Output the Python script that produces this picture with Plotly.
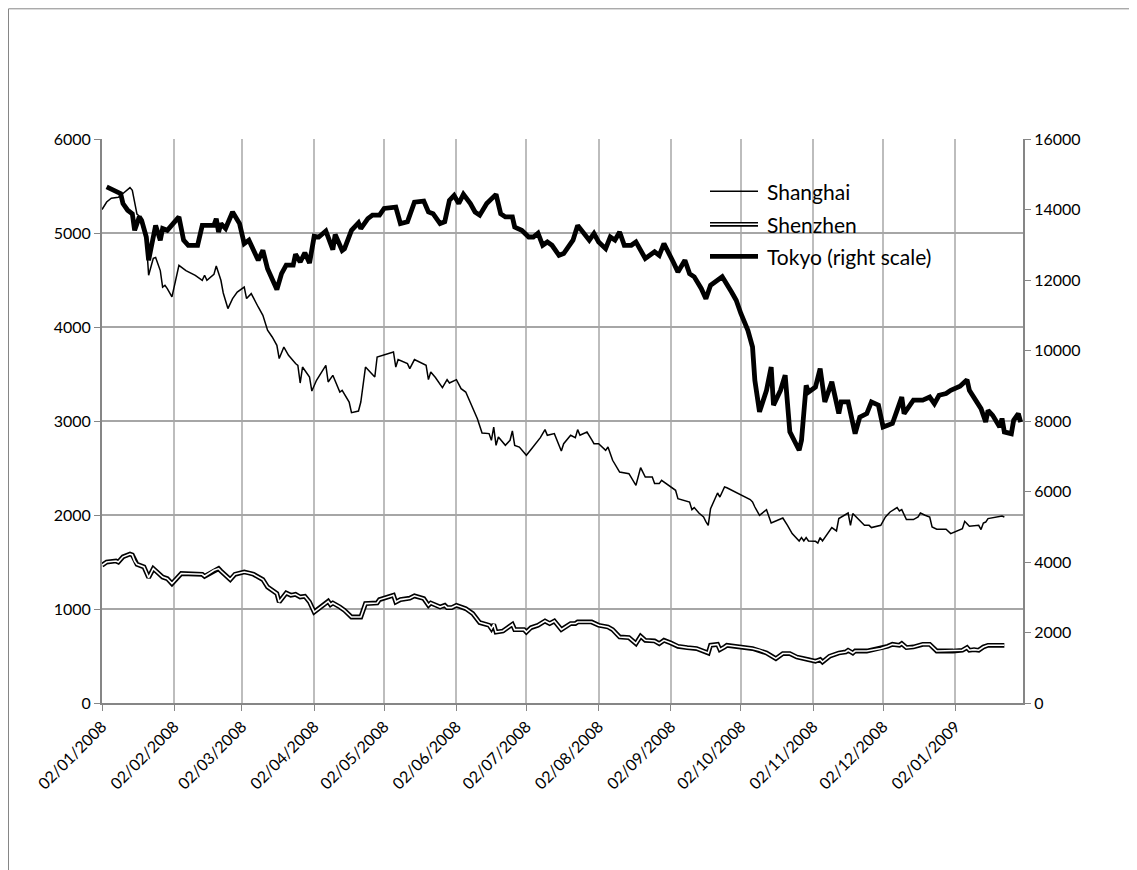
import plotly.graph_objects as go

# ---------------- data ----------------
tokyo_dates = [
    "2008-01-04", "2008-01-08", "2008-01-10", "2008-01-11", "2008-01-13", "2008-01-15", "2008-01-16",
    "2008-01-18", "2008-01-19", "2008-01-21", "2008-01-22", "2008-01-23", "2008-01-25", "2008-01-27",
    "2008-01-28", "2008-01-30", "2008-02-01", "2008-02-04", "2008-02-06", "2008-02-08", "2008-02-12",
    "2008-02-14", "2008-02-19", "2008-02-20", "2008-02-21", "2008-02-22", "2008-02-24", "2008-02-27",
    "2008-03-01", "2008-03-03", "2008-03-05", "2008-03-09", "2008-03-11", "2008-03-13", "2008-03-17",
    "2008-03-19", "2008-03-21", "2008-03-24", "2008-03-25", "2008-03-27", "2008-03-29", "2008-03-31",
    "2008-04-02", "2008-04-04", "2008-04-07", "2008-04-08", "2008-04-10", "2008-04-11", "2008-04-14",
    "2008-04-15", "2008-04-18", "2008-04-21", "2008-04-22", "2008-04-25", "2008-04-27", "2008-04-30",
    "2008-05-02", "2008-05-07", "2008-05-09", "2008-05-12", "2008-05-14", "2008-05-15", "2008-05-19",
    "2008-05-21", "2008-05-23", "2008-05-26", "2008-05-28", "2008-05-30", "2008-06-01", "2008-06-03",
    "2008-06-05", "2008-06-08", "2008-06-10", "2008-06-12", "2008-06-15", "2008-06-19", "2008-06-21",
    "2008-06-23", "2008-06-26", "2008-06-27", "2008-06-30", "2008-07-03", "2008-07-05", "2008-07-07",
    "2008-07-09", "2008-07-11", "2008-07-13", "2008-07-16", "2008-07-18", "2008-07-22", "2008-07-24",
    "2008-07-26", "2008-07-29", "2008-07-31", "2008-08-02", "2008-08-05", "2008-08-07", "2008-08-09",
    "2008-08-11", "2008-08-13", "2008-08-16", "2008-08-18", "2008-08-22", "2008-08-26", "2008-08-28",
    "2008-08-30", "2008-09-01", "2008-09-03", "2008-09-05", "2008-09-08", "2008-09-10", "2008-09-12",
    "2008-09-15", "2008-09-17", "2008-09-19", "2008-09-24", "2008-09-28", "2008-09-30", "2008-10-02",
    "2008-10-05", "2008-10-07", "2008-10-08", "2008-10-10", "2008-10-13", "2008-10-15", "2008-10-16",
    "2008-10-19", "2008-10-21", "2008-10-23", "2008-10-27", "2008-10-28", "2008-10-30", "2008-10-31",
    "2008-11-03", "2008-11-05", "2008-11-07", "2008-11-10", "2008-11-13", "2008-11-14", "2008-11-17",
    "2008-11-20", "2008-11-22", "2008-11-25", "2008-11-27", "2008-11-30", "2008-12-02", "2008-12-04",
    "2008-12-06", "2008-12-08", "2008-12-10", "2008-12-11", "2008-12-15", "2008-12-19", "2008-12-22",
    "2008-12-24", "2008-12-26", "2008-12-29", "2008-12-31", "2009-01-04", "2009-01-07", "2009-01-08",
    "2009-01-11", "2009-01-13", "2009-01-15", "2009-01-16", "2009-01-18", "2009-01-21", "2009-01-22",
    "2009-01-23", "2009-01-26", "2009-01-27", "2009-01-29", "2009-01-30",
]
tokyo_values = [
    14640, 14500, 14450, 14170, 13980, 13880, 13410,
    13790, 13690, 13220, 12560, 12890, 13550, 13130,
    13460, 13410, 13550, 13790, 13130, 12985, 12985,
    13550, 13550, 13740, 13360, 13600, 13460, 13930,
    13600, 13030, 13130, 12560, 12840, 12320, 11730,
    12180, 12420, 12420, 12730, 12510, 12770, 12480,
    13240, 13220, 13390, 13240, 12860, 13290, 12840,
    12890, 13410, 13620, 13460, 13740, 13840, 13840,
    14030, 14070, 13600, 13650, 14070, 14210, 14240,
    13930, 13880, 13600, 13650, 14260, 14400, 14170,
    14430, 14170, 13930, 13840, 14170, 14430, 13880,
    13790, 13790, 13500, 13410, 13220, 13220, 13330,
    12985, 13080, 12985, 12700, 12750, 13130, 13550,
    13360, 13130, 13320, 13080, 12890, 13220, 13130,
    13360, 12985, 12985, 13080, 12610, 12800, 12700,
    13030, 12800, 12510, 12230, 12560, 12180, 12090,
    11760, 11470, 11850, 12090, 11660, 11425, 11050,
    10570, 10100, 9150, 8260, 8870, 9530, 8450,
    8870, 9300, 7690, 7170, 7450, 9010, 8820,
    8965, 9490, 8540, 9110, 8210, 8540, 8540,
    7640, 8110, 8210, 8540, 8450, 7830, 7880,
    7930, 8300, 8680, 8210, 8590, 8590, 8680,
    8490, 8730, 8780, 8870, 8985, 9170, 8870,
    8540, 8350, 7970, 8300, 8160, 7830, 8070,
    7690, 7640, 8020, 8210, 7970,
]

shanghai_dates = [
    "2008-01-02", "2008-01-04", "2008-01-06", "2008-01-09", "2008-01-11", "2008-01-14", "2008-01-15",
    "2008-01-17", "2008-01-18", "2008-01-21", "2008-01-22", "2008-01-24", "2008-01-25", "2008-01-27",
    "2008-01-28", "2008-01-29", "2008-01-30", "2008-02-01", "2008-02-04", "2008-02-07", "2008-02-11",
    "2008-02-14", "2008-02-15", "2008-02-16", "2008-02-19", "2008-02-20", "2008-02-22", "2008-02-23",
    "2008-02-25", "2008-02-27", "2008-02-29", "2008-03-03", "2008-03-04", "2008-03-06", "2008-03-09",
    "2008-03-11", "2008-03-13", "2008-03-15", "2008-03-17", "2008-03-18", "2008-03-20", "2008-03-22",
    "2008-03-25", "2008-03-26", "2008-03-27", "2008-03-28", "2008-03-31", "2008-04-01", "2008-04-03",
    "2008-04-07", "2008-04-08", "2008-04-10", "2008-04-13", "2008-04-14", "2008-04-17", "2008-04-18",
    "2008-04-21", "2008-04-22", "2008-04-24", "2008-04-28", "2008-04-29", "2008-05-06", "2008-05-07",
    "2008-05-08", "2008-05-12", "2008-05-13", "2008-05-15", "2008-05-20", "2008-05-21", "2008-05-22",
    "2008-05-24", "2008-05-27", "2008-05-29", "2008-05-30", "2008-06-02", "2008-06-04", "2008-06-06",
    "2008-06-11", "2008-06-13", "2008-06-16", "2008-06-17", "2008-06-18", "2008-06-19", "2008-06-20",
    "2008-06-23", "2008-06-25", "2008-06-26", "2008-06-27", "2008-06-29", "2008-07-02", "2008-07-04",
    "2008-07-08", "2008-07-10", "2008-07-11", "2008-07-14", "2008-07-16", "2008-07-17", "2008-07-18",
    "2008-07-21", "2008-07-23", "2008-07-24", "2008-07-25", "2008-07-28", "2008-07-30", "2008-07-31",
    "2008-08-02", "2008-08-05", "2008-08-06", "2008-08-08", "2008-08-11", "2008-08-14", "2008-08-15",
    "2008-08-18", "2008-08-20", "2008-08-22", "2008-08-25", "2008-08-26", "2008-08-28", "2008-08-29",
    "2008-09-03", "2008-09-04", "2008-09-05", "2008-09-08", "2008-09-10", "2008-09-11", "2008-09-12",
    "2008-09-14", "2008-09-16", "2008-09-17", "2008-09-18", "2008-09-19", "2008-09-22", "2008-09-23",
    "2008-09-25", "2008-09-26", "2008-10-06", "2008-10-07", "2008-10-08", "2008-10-10", "2008-10-13",
    "2008-10-15", "2008-10-20", "2008-10-22", "2008-10-24", "2008-10-27", "2008-10-28", "2008-10-29",
    "2008-10-30", "2008-10-31", "2008-11-03", "2008-11-04", "2008-11-05", "2008-11-06", "2008-11-07",
    "2008-11-10", "2008-11-12", "2008-11-13", "2008-11-17", "2008-11-18", "2008-11-19", "2008-11-21",
    "2008-11-24", "2008-11-26", "2008-11-27", "2008-12-01", "2008-12-03", "2008-12-05", "2008-12-08",
    "2008-12-09", "2008-12-10", "2008-12-12", "2008-12-15", "2008-12-17", "2008-12-18", "2008-12-20",
    "2008-12-22", "2008-12-23", "2008-12-25", "2008-12-29", "2008-12-31", "2009-01-05", "2009-01-06",
    "2009-01-07", "2009-01-08", "2009-01-12", "2009-01-13", "2009-01-14", "2009-01-15", "2009-01-16",
    "2009-01-20", "2009-01-22", "2009-01-23",
]
shanghai_values = [
    5250, 5330, 5370, 5380, 5420, 5483, 5454,
    5200, 5180, 4920, 4550, 4730, 4740, 4600,
    4425, 4443, 4408, 4320, 4656, 4600, 4550,
    4497, 4550, 4497, 4560, 4649, 4497, 4362,
    4196, 4302, 4372, 4425, 4302, 4355, 4213,
    4124, 3965, 3894, 3805, 3664, 3787, 3699,
    3611, 3592, 3404, 3574, 3468, 3319, 3433,
    3592, 3415, 3486, 3308, 3326, 3202, 3089,
    3106, 3202, 3574, 3468, 3681, 3734, 3574,
    3653, 3611, 3557, 3653, 3592, 3440, 3521,
    3462, 3355, 3440, 3404, 3440, 3344, 3308,
    3025, 2872, 2866, 2795, 2936, 2741, 2830,
    2741, 2795, 2894, 2741, 2723, 2635, 2696,
    2823, 2908, 2848, 2866, 2741, 2681, 2759,
    2848, 2823, 2908, 2848, 2883, 2802, 2759,
    2759, 2688, 2723, 2582, 2457, 2440, 2440,
    2316, 2504, 2404, 2404, 2334, 2334, 2369,
    2281, 2263, 2174, 2156, 2138, 2057, 2079,
    2021, 1979, 1930, 1890, 2068, 2234, 2191,
    2298, 2290, 2164, 2140, 2085, 1997, 2057,
    1915, 1968, 1890, 1802, 1723, 1759, 1723,
    1759, 1723, 1720, 1702, 1759, 1723, 1759,
    1866, 1830, 1962, 2021, 1890, 2015, 1962,
    1890, 1890, 1866, 1890, 1979, 2032, 2079,
    2043, 2057, 1951, 1951, 1979, 2021, 1997,
    1979, 1872, 1848, 1848, 1802, 1855, 1933,
    1908, 1880, 1890, 1845, 1915, 1925, 1962,
    1979, 1989, 1979,
]

shenzhen_dates = [
    "2008-01-02", "2008-01-04", "2008-01-08", "2008-01-09", "2008-01-11", "2008-01-14", "2008-01-15",
    "2008-01-16", "2008-01-17", "2008-01-20", "2008-01-22", "2008-01-24", "2008-01-28", "2008-01-30",
    "2008-02-01", "2008-02-05", "2008-02-14", "2008-02-15", "2008-02-19", "2008-02-21", "2008-02-22",
    "2008-02-26", "2008-02-28", "2008-03-03", "2008-03-05", "2008-03-07", "2008-03-11", "2008-03-13",
    "2008-03-17", "2008-03-18", "2008-03-21", "2008-03-23", "2008-03-25", "2008-03-27", "2008-03-29",
    "2008-03-31", "2008-04-02", "2008-04-05", "2008-04-08", "2008-04-09", "2008-04-10", "2008-04-13",
    "2008-04-15", "2008-04-18", "2008-04-22", "2008-04-24", "2008-04-29", "2008-04-30", "2008-05-05",
    "2008-05-06", "2008-05-07", "2008-05-09", "2008-05-13", "2008-05-15", "2008-05-19", "2008-05-21",
    "2008-05-22", "2008-05-26", "2008-05-28", "2008-05-29", "2008-05-31", "2008-06-02", "2008-06-06",
    "2008-06-09", "2008-06-12", "2008-06-16", "2008-06-17", "2008-06-18", "2008-06-19", "2008-06-22",
    "2008-06-24", "2008-06-26", "2008-06-27", "2008-07-01", "2008-07-02", "2008-07-04", "2008-07-07",
    "2008-07-10", "2008-07-12", "2008-07-14", "2008-07-17", "2008-07-21", "2008-07-23", "2008-07-24",
    "2008-07-30", "2008-08-02", "2008-08-06", "2008-08-08", "2008-08-11", "2008-08-15", "2008-08-18",
    "2008-08-20", "2008-08-22", "2008-08-26", "2008-08-28", "2008-08-30", "2008-09-02", "2008-09-05",
    "2008-09-09", "2008-09-13", "2008-09-18", "2008-09-19", "2008-09-22", "2008-09-23", "2008-09-25",
    "2008-09-26", "2008-10-07", "2008-10-10", "2008-10-13", "2008-10-17", "2008-10-20", "2008-10-23",
    "2008-10-26", "2008-10-31", "2008-11-03", "2008-11-05", "2008-11-06", "2008-11-09", "2008-11-13",
    "2008-11-16", "2008-11-17", "2008-11-19", "2008-11-20", "2008-11-25", "2008-12-01", "2008-12-04",
    "2008-12-06", "2008-12-09", "2008-12-10", "2008-12-12", "2008-12-15", "2008-12-19", "2008-12-22",
    "2008-12-25", "2009-01-01", "2009-01-05", "2009-01-07", "2009-01-08", "2009-01-10", "2009-01-12",
    "2009-01-14", "2009-01-16", "2009-01-23",
]
shenzhen_values = [
    1465, 1500, 1511, 1500, 1555, 1585, 1575,
    1510, 1475, 1447, 1334, 1430, 1340, 1323,
    1270, 1377, 1369, 1348, 1412, 1430, 1404,
    1313, 1369, 1394, 1383, 1369, 1313, 1234,
    1164, 1074, 1170, 1146, 1156, 1128, 1135,
    1074, 968, 1021, 1082, 1047, 1064, 1021,
    986, 915, 915, 1057, 1064, 1100, 1135,
    1146, 1074, 1100, 1115, 1140, 1111, 1039,
    1064, 1021, 1039, 1015, 1015, 1039, 1004,
    951, 855, 827, 791, 837, 755, 766,
    802, 837, 781, 781, 755, 802, 827,
    872, 845, 872, 781, 845, 845, 862,
    862, 827, 809, 781, 702, 696, 632,
    710, 667, 660, 632, 667, 638, 603,
    589, 579, 532, 614, 624, 568, 596,
    614, 579, 561, 532, 472, 526, 526,
    489, 462, 444, 462, 436, 497, 532,
    543, 561, 532, 553, 553, 579, 603,
    624, 614, 632, 589, 596, 624, 624,
    553, 553, 561, 589, 561, 568, 561,
    596, 614, 614,
]

tick_dates = [
    "2008-01-02", "2008-02-02", "2008-03-02", "2008-04-02", "2008-05-02", "2008-06-02", "2008-07-02",
    "2008-08-02", "2008-09-02", "2008-10-02", "2008-11-02", "2008-12-02", "2009-01-02",
]
tick_labels = [
    "02/01/2008", "02/02/2008", "02/03/2008", "02/04/2008", "02/05/2008", "02/06/2008", "02/07/2008",
    "02/08/2008", "02/09/2008", "02/10/2008", "02/11/2008", "02/12/2008", "02/01/2009",
]
left_ticks = [0, 1000, 2000, 3000, 4000, 5000, 6000]
right_ticks = [0, 2000, 4000, 6000, 8000, 10000, 12000, 14000, 16000]
series_names = ["Shanghai", "Shenzhen", "Tokyo (right scale)"]

# ---------------- figure ----------------
FONT = "Lato, 'Liberation Sans', sans-serif"
fig = go.Figure()

fig.add_trace(go.Scatter(x=shanghai_dates, y=shanghai_values, mode="lines",
                         line=dict(color="black", width=1.5), name=series_names[0],
                         showlegend=False, hoverinfo="skip"))
fig.add_trace(go.Scatter(x=shenzhen_dates, y=shenzhen_values, mode="lines",
                         line=dict(color="black", width=4.8), name=series_names[1],
                         showlegend=False, hoverinfo="skip"))
fig.add_trace(go.Scatter(x=shenzhen_dates, y=shenzhen_values, mode="lines",
                         line=dict(color="white", width=1.6), name=series_names[1],
                         showlegend=False, hoverinfo="skip"))
fig.add_trace(go.Scatter(x=tokyo_dates, y=tokyo_values, mode="lines", yaxis="y2",
                         line=dict(color="black", width=4.8), name=series_names[2],
                         showlegend=False, hoverinfo="skip"))

# page coordinates of the plot area (the page has an 8px body margin)
OFF = 8
W, H = 1137 - OFF, 870 - OFF
L, R, T, B = 102, 1023, 138.7, 702.7
pw, ph = R - L, B - T


def px(x):
    return (x - L) / pw


def py(y):
    return (B - y) / ph


# custom legend (Excel style, with the double line for Shenzhen)
shapes = []
annotations = []
leg_rows = [191, 224, 256]
x0, x1, xt = 710, 758, 765
for i, name in enumerate(series_names):
    yy = py(leg_rows[i])
    if i == 0:
        shapes.append(dict(type="line", xref="paper", yref="paper", x0=px(x0), x1=px(x1), y0=yy, y1=yy,
                           line=dict(color="black", width=1.5)))
    elif i == 1:
        shapes.append(dict(type="line", xref="paper", yref="paper", x0=px(x0), x1=px(x1), y0=yy, y1=yy,
                           line=dict(color="black", width=4.8)))
        shapes.append(dict(type="line", xref="paper", yref="paper", x0=px(x0), x1=px(x1), y0=yy, y1=yy,
                           line=dict(color="white", width=1.6)))
    else:
        shapes.append(dict(type="line", xref="paper", yref="paper", x0=px(x0), x1=px(x1), y0=yy, y1=yy,
                           line=dict(color="black", width=4.8)))
    annotations.append(dict(text=name, xref="paper", yref="paper", x=px(xt), y=yy,
                            xanchor="left", yanchor="middle", showarrow=False,
                            font=dict(family=FONT, size=21, color="black")))

# chart-area border (top, left and right edges visible in the picture)
for (ax0, ay0, ax1, ay1) in [(8.5, 8.5, 1135.5, 8.5), (8.5, 8.5, 8.5, 875), (1135.5, 8.5, 1135.5, 875)]:
    shapes.append(dict(type="line", xref="paper", yref="paper",
                       x0=px(ax0), x1=px(ax1), y0=py(ay0), y1=py(ay1),
                       line=dict(color="#868686", width=1), layer="below"))

axis_font = dict(family=FONT, size=16, color="black")
fig.update_layout(
    width=W, height=H,
    margin=dict(l=L - OFF, r=W - (R - OFF), t=T - OFF, b=H - (B - OFF), pad=0),
    paper_bgcolor="white", plot_bgcolor="white",
    font=dict(family=FONT, size=16, color="black"),
    showlegend=False,
    xaxis=dict(type="date", range=["2008-01-02", "2009-01-31"],
               tickvals=tick_dates, ticktext=tick_labels, tickangle=-45,
               showgrid=True, gridcolor="#BDBDBD", gridwidth=2,
               showline=True, linecolor="#868686", linewidth=2,
               ticks="outside", ticklen=6, tickcolor="#868686",
               tickfont=axis_font, zeroline=False),
    yaxis=dict(range=[0, 6000], tickvals=left_ticks, tickformat="d",
               showgrid=True, gridcolor="#A6A6A6", gridwidth=2,
               showline=True, linecolor="#868686", linewidth=2,
               ticks="outside", ticklen=6, tickcolor="#868686",
               tickfont=axis_font, zeroline=False),
    yaxis2=dict(range=[0, 16000], tickvals=right_ticks, tickformat="d",
                overlaying="y", side="right", showgrid=False,
                showline=True, linecolor="#868686", linewidth=2,
                ticks="outside", ticklen=6, tickcolor="#868686",
                tickfont=axis_font, zeroline=False),
    shapes=shapes,
    annotations=annotations,
)

fig.write_html("out.html")
